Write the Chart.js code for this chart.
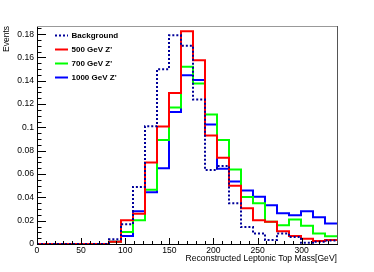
<!DOCTYPE html>
<html>
<head>
<meta charset="utf-8">
<script src="https://cdn.jsdelivr.net/npm/chart.js@4"></script>
<style>
  body { margin: 0; background: #fff; }
  #wrap { width: 374px; height: 272px; }
</style>
</head>
<body>
<div id="wrap"><canvas id="grafico"></canvas></div>
<script>
const xMin = 0, xMax = 340, nBins = 25;
const yMax = 0.187;
const nomes = ["Background", "500 GeV Z'", "700 GeV Z'", "1000 GeV Z'"];

// contents of the 25 bins (0 - 340 GeV)
const background = [0, 0, 0, 0, 0, 0, 0.004, 0.017, 0.049, 0.101, 0.150, 0.179, 0.170, 0.124, 0.0635, 0.067, 0.035, 0.0145, 0.009, 0.0035, 0.009, 0.006, 0.001, 0.002, 0.003];
const zp500 = [0, 0, 0, 0, 0, 0, 0.002, 0.0204, 0.026, 0.070, 0.1008, 0.1295, 0.1826, 0.1576, 0.093, 0.074, 0.050, 0.0306, 0.0204, 0.019, 0.011, 0.0068, 0.0045, 0.0025, 0.0035];
const zp700 = [0, 0, 0, 0, 0, 0, 0.002, 0.0103, 0.0204, 0.0465, 0.0893, 0.1171, 0.152, 0.1376, 0.111, 0.0893, 0.064, 0.0403, 0.0349, 0.019, 0.0161, 0.021, 0.0157, 0.009, 0.0066];
const zp1000 = [0, 0, 0, 0, 0, 0, 0.002, 0.0069, 0.0282, 0.0443, 0.065, 0.1132, 0.1447, 0.1407, 0.1025, 0.0645, 0.0536, 0.0458, 0.0405, 0.0333, 0.0264, 0.0247, 0.028, 0.023, 0.0175];

const largura = (xMax - xMin) / nBins;
function histo(valores) {
    const pts = valores.map((v, i) => ({ x: xMin + i * largura, y: v }));
    pts.push({ x: xMax, y: valores[valores.length - 1] });
    return pts;
}

Chart.defaults.font.family = "'Liberation Sans', Arial, sans-serif";
Chart.defaults.font.size = 8.6;
Chart.defaults.color = "#000";

// ROOT style frame: inner ticks, grey top/right edges and the legend
const rootFrame = {
    id: "rootFrame",
    afterDraw(chart) {
        const { ctx, chartArea: a, scales } = chart;
        ctx.save();
        ctx.strokeStyle = "#000";
        ctx.lineWidth = 1;
        ctx.beginPath();
        for (let i = 0; i * 0.005 <= yMax; i++) {
            const y = Math.round(scales.y.getPixelForValue(i * 0.005)) + 0.5;
            const len = i % 4 == 0 ? 9 : 4.5;
            ctx.moveTo(a.left, y);
            ctx.lineTo(a.left + len, y);
        }
        for (let v = 0; v <= xMax; v += 10) {
            const x = Math.round(scales.x.getPixelForValue(v)) + 0.5;
            const len = v % 50 == 0 ? 6 : 3;
            ctx.moveTo(x, a.bottom);
            ctx.lineTo(x, a.bottom - len);
        }
        ctx.stroke();

        ctx.strokeStyle = "#999";
        ctx.beginPath();
        ctx.moveTo(a.left, Math.round(a.top) + 0.5);
        ctx.lineTo(a.right, Math.round(a.top) + 0.5);
        ctx.stroke();
        ctx.strokeStyle = "#555";
        ctx.beginPath();
        ctx.moveTo(Math.round(a.right) + 0.5, a.top);
        ctx.lineTo(Math.round(a.right) + 0.5, a.bottom);
        ctx.stroke();

        ctx.font = "bold 8px 'Liberation Sans', Arial, sans-serif";
        ctx.textBaseline = "middle";
        ctx.textAlign = "left";
        chart.data.datasets.forEach((ds, i) => {
            const y = 35.5 + i * 14;
            ctx.strokeStyle = ds.borderColor;
            ctx.lineWidth = 2;
            ctx.setLineDash(ds.borderDash || []);
            ctx.beginPath();
            ctx.moveTo(55, y);
            ctx.lineTo(68, y);
            ctx.stroke();
            ctx.setLineDash([]);
            ctx.fillStyle = "#000";
            ctx.fillText(ds.label, 71.5, y);
        });
        ctx.restore();
    }
};

const ctx = document.getElementById("grafico");

new Chart(ctx, {
    type: "line",
    data: {
        datasets: [
            { label: nomes[0], data: histo(background), borderColor: "#000099", borderDash: [2, 2] },
            { label: nomes[1], data: histo(zp500), borderColor: "#ff0000" },
            { label: nomes[2], data: histo(zp700), borderColor: "#00ff00" },
            { label: nomes[3], data: histo(zp1000), borderColor: "#0000ff" },
        ],
    },
    options: {
        responsive: true,
        maintainAspectRatio: false,
        animation: false,
        elements: {
            line: { borderWidth: 2, stepped: true, fill: false, tension: 0 },
            point: { radius: 0, hoverRadius: 0 },
        },
        layout: {
            padding: { left: 0, right: 37, top: 26, bottom: 0 },
        },
        plugins: {
            legend: { display: false },
            tooltip: { enabled: false },
        },
        scales: {
            x: {
                type: "linear",
                min: xMin,
                max: xMax,
                grid: { display: false, drawTicks: false },
                border: { display: true, color: "#000", width: 1 },
                ticks: {
                    stepSize: 50,
                    includeBounds: false,
                    autoSkip: false,
                    maxRotation: 0,
                    padding: 1,
                    callback: v => String(v),
                },
                title: {
                    display: true,
                    text: "Reconstructed Leptonic Top Mass[GeV]",
                    align: "end",
                    padding: { top: 0, bottom: 8.6 },
                    font: { size: 8.6 },
                },
                afterFit: s => { s.height = 28; },
            },
            y: {
                min: 0,
                max: yMax,
                grid: { display: false, drawTicks: false },
                border: { display: true, color: "#000", width: 1 },
                ticks: {
                    stepSize: 0.02,
                    includeBounds: false,
                    padding: 3,
                    callback: v => String(Math.round(v * 100) / 100),
                },
                title: {
                    display: true,
                    text: "Events",
                    align: "end",
                    padding: { top: 2, bottom: 0 },
                    font: { size: 8.5 },
                },
                afterFit: s => { s.width = 37; },
            },
        },
    },
    plugins: [rootFrame],
});
</script>
</body>
</html>
